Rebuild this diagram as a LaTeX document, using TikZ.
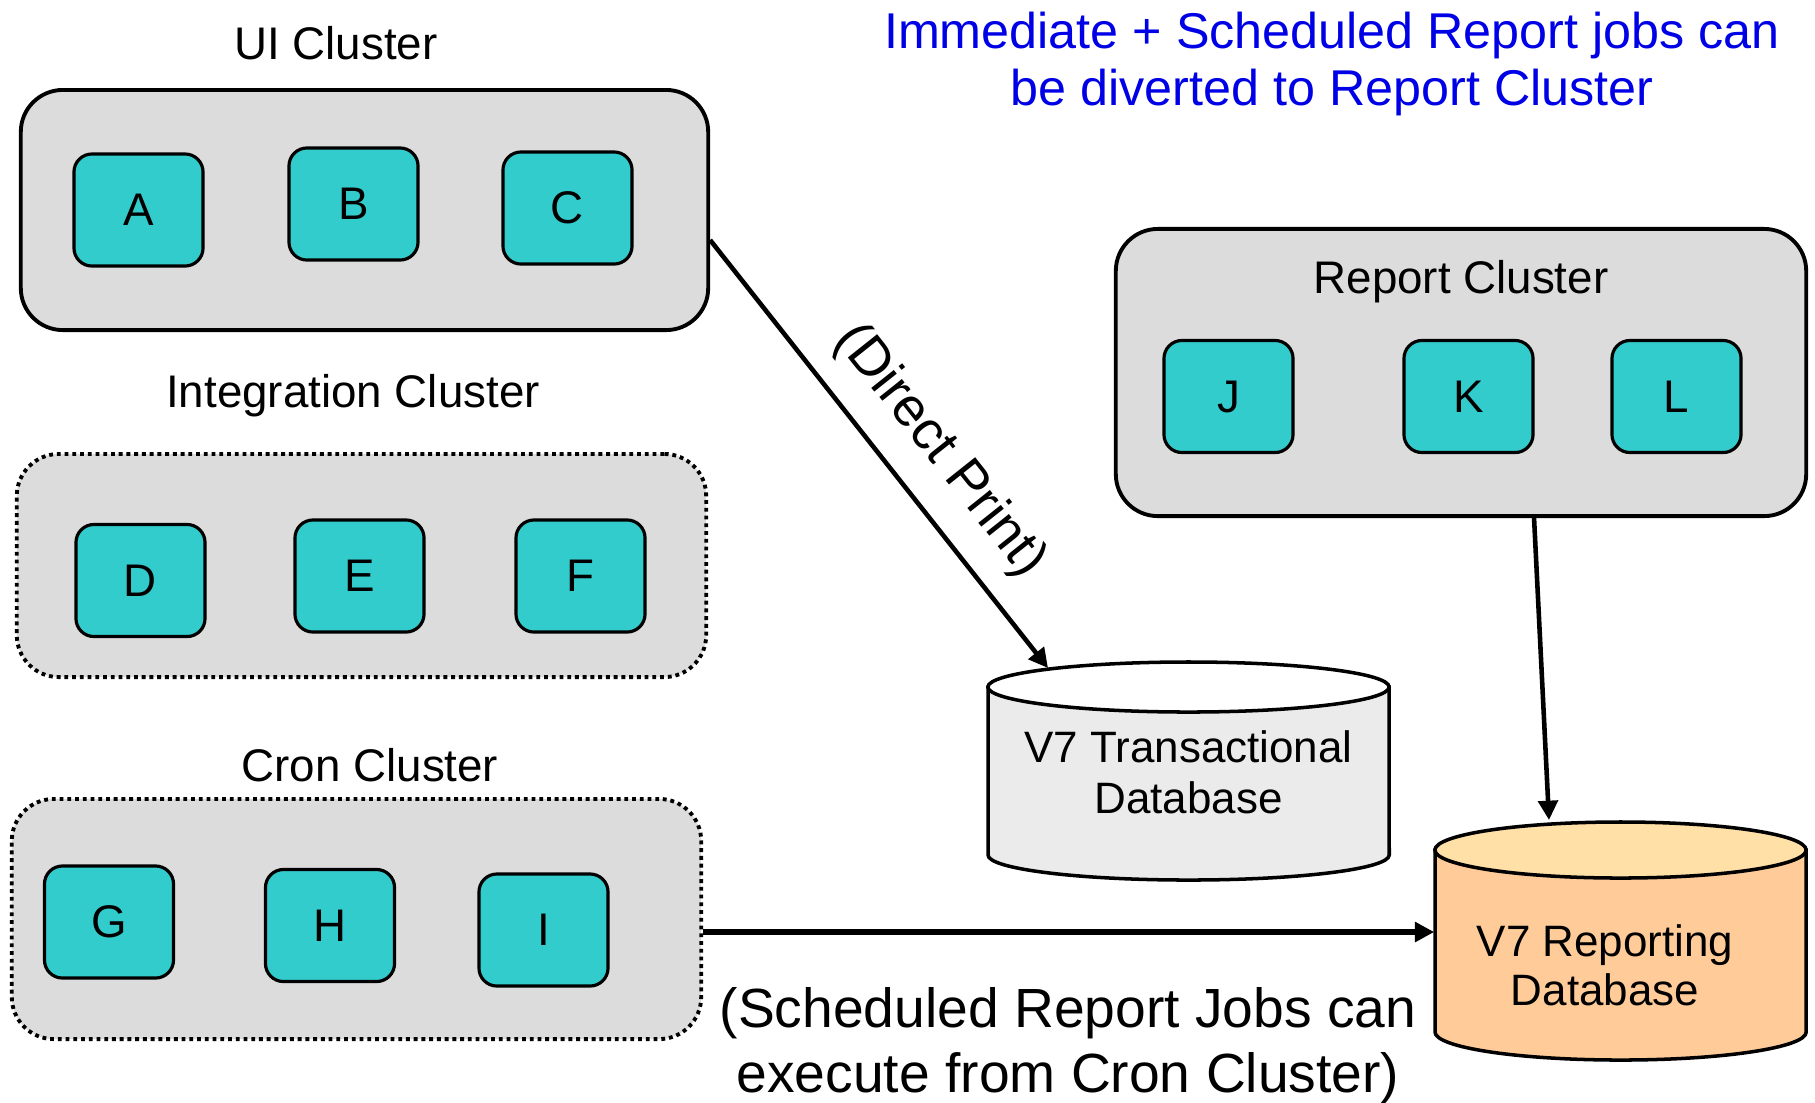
\documentclass[tikz,border=0pt]{standalone}
\usepackage{fontspec}
\setmainfont{Liberation Sans}
\usetikzlibrary{arrows.meta}
\definecolor{clfill}{HTML}{DCDCDC}
\definecolor{srvfill}{HTML}{33CCCC}
\definecolor{tdbbody}{HTML}{EBEBEB}
\definecolor{rdbbody}{HTML}{FFCC99}
\definecolor{rdbtop}{HTML}{FFE0A6}
\definecolor{bluetxt}{HTML}{0000E6}
\begin{document}
\begin{tikzpicture}[x=0.01cm,y=-0.01cm,
  cluster/.style={draw, line width=1.1pt, fill=clfill, rounded corners=0.42cm, inner sep=0},
  dotcluster/.style={cluster, dash pattern=on 1.1pt off 1.1pt},
  srv/.style={draw, line width=0.9pt, fill=srvfill, rounded corners=0.18cm, minimum width=1.29cm, minimum height=1.12cm, inner sep=0, font=\fontsize{13}{15}\selectfont},
  ctitle/.style={font=\fontsize{13}{15}\selectfont, inner sep=0},
  arr/.style={line width=1.3pt, -{Triangle[length=5.5pt,width=5.5pt]}},
  dbline/.style={line width=1pt}]
\useasboundingbox (0,0) rectangle (1815,1102);

% clusters
\node[cluster, minimum width=6.87cm, minimum height=2.40cm] (ui) at (364.5,210) {};
\node[dotcluster, minimum width=6.89cm, minimum height=2.23cm] (integ) at (361.5,565.5) {};
\node[dotcluster, minimum width=6.89cm, minimum height=2.40cm] (cron) at (356.5,919) {};
\node[cluster, minimum width=6.90cm, minimum height=2.87cm] (rep) at (1461,372.5) {};

% titles
\node[ctitle] (uit) at (336,43) {UI Cluster};
\node[ctitle] (integt) at (353,396) {Integration Cluster};
\node[ctitle] (cront) at (370,765) {Cron Cluster};
\node[ctitle] (rept) at (1461,282) {Report Cluster};

% servers
\node[srv] (A) at (138.5,210) {A};
\node[srv] (B) at (353.5,204) {B};
\node[srv] (C) at (567.5,208) {C};
\node[srv] (D) at (140.5,580.5) {D};
\node[srv] (E) at (359.5,576) {E};
\node[srv] (F) at (580.5,576) {F};
\node[srv] (G) at (109,922) {G};
\node[srv] (H) at (330,925.5) {H};
\node[srv] (I) at (543.5,930) {I};
\node[srv] (J) at (1228.5,396.5) {J};
\node[srv] (K) at (1468.5,396.5) {K};
\node[srv] (L) at (1676.5,396.5) {L};

% transactional database cylinder
\filldraw[dbline, fill=tdbbody] (988,687) -- (988,855) arc[start angle=180, end angle=360, x radius=2.005cm, y radius=0.25cm] -- (1389,687) -- cycle;
\filldraw[dbline, fill=white] (1188.5,687) ellipse [x radius=2.005cm, y radius=0.25cm];
\node[inner sep=0, minimum width=4.01cm, minimum height=2.18cm, align=center, font=\fontsize{12.5}{14.5}\selectfont] (tdb) at (1188.5,772) {V7 Transactional\\Database};

% reporting database cylinder
\filldraw[dbline, fill=rdbbody] (1435,850) -- (1435,1032) arc[start angle=180, end angle=360, x radius=1.855cm, y radius=0.28cm] -- (1806,850) -- cycle;
\filldraw[dbline, fill=rdbtop] (1620.5,850) ellipse [x radius=1.855cm, y radius=0.28cm];
\node[inner sep=0, minimum width=3.71cm, minimum height=2.38cm] (rdb) at (1620.5,941) {};
\node[align=center, inner sep=0, font=\fontsize{12.5}{14}\selectfont] (rdbtext) at (1605,965) {V7 Reporting\\Database};

% connectors
\coordinate (dpin) at (1048,668);
\coordinate (rdbin) at (1549,820);
\draw[arr] ([yshift=-0.3cm]ui.east) -- (dpin);
\draw[arr] ([xshift=0.73cm]rep.south) -- (rdbin);
\draw[arr, line width=1.7pt] ([yshift=-0.13cm]cron.east) -- ([yshift=-0.13cm]cron.east -| rdb.west);

% labels
\node[rotate=-51.5, inner sep=0, font=\fontsize{15.5}{17}\selectfont] (dplabel) at (940,451) {(Direct Print)};
\node[align=center, inner sep=0, font=\fontsize{15.7}{18.4}\selectfont] (cronlabel) at (1068,1046) {(Scheduled Report Jobs can\\execute from Cron Cluster)};
\node[align=center, inner sep=0, text=bluetxt, font=\fontsize{14.3}{16}\selectfont] (note) at (1332,64) {Immediate + Scheduled Report jobs can\\be diverted to Report Cluster};
\end{tikzpicture}
\end{document}
